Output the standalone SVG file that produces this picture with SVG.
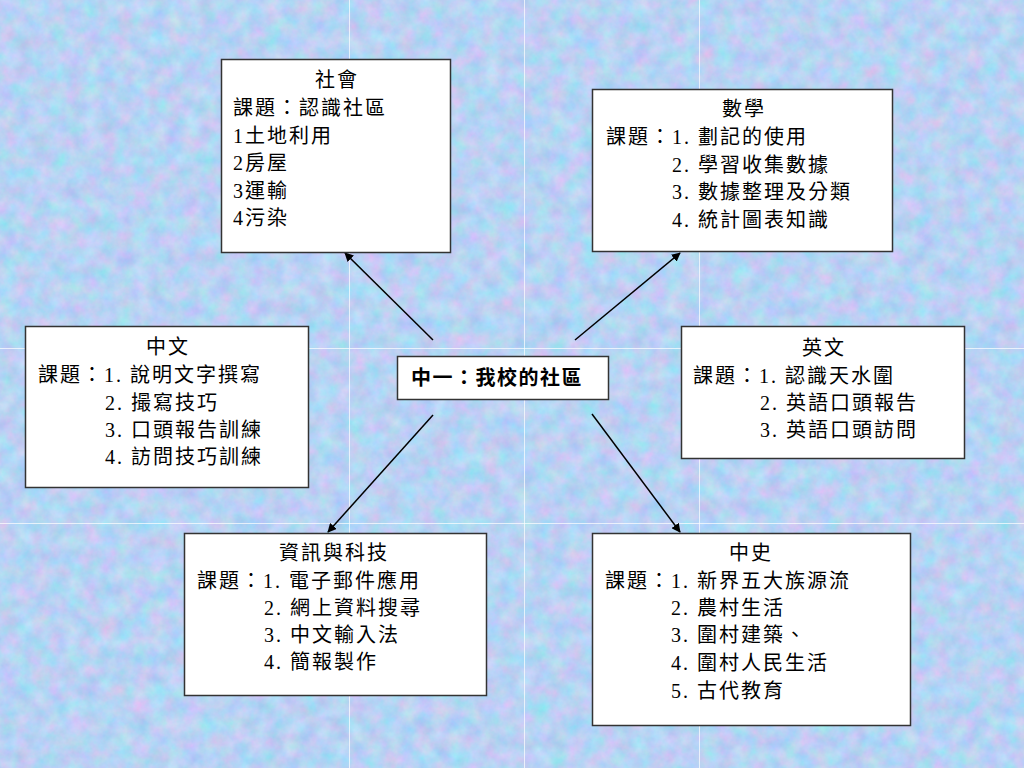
<svg xmlns="http://www.w3.org/2000/svg" width="1024" height="768" viewBox="0 0 1024 768">
<defs>
<filter id="tex" x="0" y="0" width="100%" height="100%" color-interpolation-filters="sRGB">
<feTurbulence type="fractalNoise" baseFrequency="0.06" numOctaves="4" seed="7" result="n"/>
<feColorMatrix in="n" type="matrix" values="0.3 -0.15 0 0 0.645  0 0.2 0 0 0.725  0 0 0.1 0 0.905  0 0 0 0 1"/>
</filter>
<marker id="arr" viewBox="0 0 10 10" refX="9" refY="5" markerWidth="9" markerHeight="9" markerUnits="userSpaceOnUse" orient="auto">
<path d="M0,0 L10,5 L0,10 z" fill="#000"/>
</marker>
<style>
.box{fill:#fff;stroke:#333;stroke-width:1.5}
.t{font-family:"Liberation Serif","Noto Sans CJK TC",serif;font-size:20px;letter-spacing:2px;fill:#000}
.c{text-anchor:middle}
.b{font-weight:bold;letter-spacing:1.5px}
.seam{stroke:#fff;stroke-width:1;opacity:0.7}
.conn{stroke:#000;stroke-width:1.5;fill:none;marker-end:url(#arr)}
</style>
</defs>
<rect x="0" y="0" width="1024" height="768" fill="#b8cdef"/>
<rect x="0" y="0" width="1024" height="768" filter="url(#tex)"/>
<g id="seams">
<line class="seam" x1="349.5" y1="0" x2="349.5" y2="768"/>
<line class="seam" x1="524.5" y1="0" x2="524.5" y2="768"/>
<line class="seam" x1="699.5" y1="0" x2="699.5" y2="768"/>
<line class="seam" x1="0" y1="348.5" x2="1024" y2="348.5"/>
<line class="seam" x1="0" y1="523.5" x2="1024" y2="523.5"/>
</g>
<g id="connectors">
<line class="conn" x1="433" y1="340" x2="345" y2="253"/>
<line class="conn" x1="575" y1="340" x2="680" y2="253"/>
<line class="conn" x1="433" y1="415" x2="328" y2="532"/>
<line class="conn" x1="592" y1="414" x2="680" y2="532"/>
</g>
<g id="society">
<rect class="box" x="221.5" y="59.5" width="229" height="193"/>
<text class="t c" x="337" y="86.5">社會</text>
<text class="t" x="233" y="114.5">課題：認識社區</text>
<text class="t" x="233" y="142.5">1土地利用</text>
<text class="t" x="233" y="169.5">2房屋</text>
<text class="t" x="233" y="197.5">3運輸</text>
<text class="t" x="233" y="224.5">4污染</text>
</g>
<g id="math">
<rect class="box" x="592.5" y="89.5" width="300" height="162"/>
<text class="t c" x="744" y="115.5">數學</text>
<text class="t" x="606" y="143.5">課題：1. 劃記的使用</text>
<text class="t" x="672" y="171.5">2. 學習收集數據</text>
<text class="t" x="672" y="198.5">3. 數據整理及分類</text>
<text class="t" x="672" y="226.5">4. 統計圖表知識</text>
</g>
<g id="chinese">
<rect class="box" x="25.5" y="326.5" width="283" height="161"/>
<text class="t c" x="168" y="353.5">中文</text>
<text class="t" x="38" y="381.5">課題：1. 說明文字撰寫</text>
<text class="t" x="105" y="409.5">2. 撮寫技巧</text>
<text class="t" x="105" y="436.5">3. 口頭報告訓練</text>
<text class="t" x="105" y="463.5">4. 訪問技巧訓練</text>
</g>
<g id="center">
<rect class="box" x="397.5" y="356.5" width="211" height="43"/>
<text class="t b" x="411" y="384.5">中一：我校的社區</text>
</g>
<g id="english">
<rect class="box" x="681.5" y="326.5" width="283" height="132"/>
<text class="t c" x="824" y="354.5">英文</text>
<text class="t" x="693" y="382.5">課題：1. 認識天水圍</text>
<text class="t" x="760" y="409.5">2. 英語口頭報告</text>
<text class="t" x="760" y="436.5">3. 英語口頭訪問</text>
</g>
<g id="it">
<rect class="box" x="184.5" y="533.5" width="302" height="162"/>
<text class="t c" x="334" y="559.5">資訊與科技</text>
<text class="t" x="197" y="587.5">課題：1. 電子郵件應用</text>
<text class="t" x="264" y="614.5">2. 網上資料搜尋</text>
<text class="t" x="264" y="641.5">3. 中文輸入法</text>
<text class="t" x="264" y="668.5">4. 簡報製作</text>
</g>
<g id="history">
<rect class="box" x="592.5" y="533.5" width="318" height="192"/>
<text class="t c" x="751" y="559.5">中史</text>
<text class="t" x="605" y="587.5">課題：1. 新界五大族源流</text>
<text class="t" x="671" y="614.5">2. 農村生活</text>
<text class="t" x="671" y="641.5">3. 圍村建築、</text>
<text class="t" x="671" y="669.5">4. 圍村人民生活</text>
<text class="t" x="671" y="697.5">5. 古代教育</text>
</g>
</svg>
